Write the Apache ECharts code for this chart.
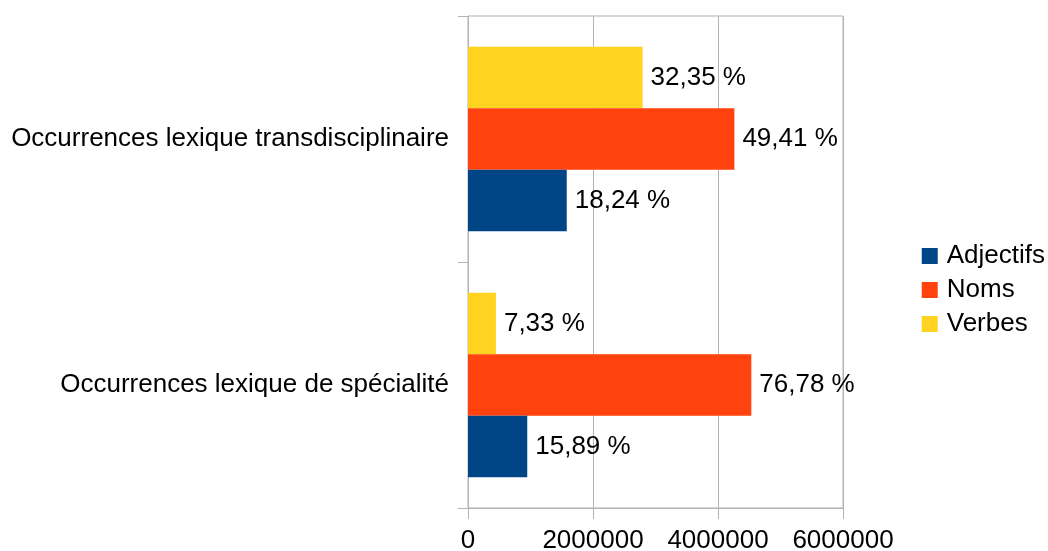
<!DOCTYPE html>
<html>
<head>
<meta charset="utf-8">
<script src="https://cdn.jsdelivr.net/npm/echarts@6/dist/echarts.min.js"></script>
<style>
  html, body { margin: 0; padding: 0; background: #ffffff; }
  #chart { width: 1048px; height: 551px; }
</style>
</head>
<body>
<div id="chart"></div>
<script>
// categories, bottom to top
const categories = ['Occurrences lexique de spécialité', 'Occurrences lexique transdisciplinaire'];

// occurrences per word class
const adjectifs = [948000, 1580000];
const noms = [4533000, 4262000];
const verbes = [447000, 2793000];

// percentage labels shown next to the bars
const adjectifsPct = ['15,89 %', '18,24 %'];
const nomsPct = ['76,78 %', '49,41 %'];
const verbesPct = ['7,33 %', '32,35 %'];

const chart = echarts.init(document.getElementById('chart'));

function barSeries(name, values, labels, color) {
  return {
    name: name,
    type: 'bar',
    data: values,
    barGap: '0%',
    barCategoryGap: '25%',
    itemStyle: { color: color },
    label: {
      show: true,
      position: 'right',
      distance: 8,
      color: '#000000',
      fontSize: 26,
      fontFamily: 'Liberation Sans',
      formatter: p => labels[p.dataIndex]
    },
    animation: false
  };
}

chart.setOption({
  textStyle: { fontFamily: 'Liberation Sans' },
  grid: {
    left: 468,
    right: 205,
    top: 16,
    bottom: 43,
    outerBoundsMode: 'none',
    containLabel: false,
    show: true,
    borderColor: '#b3b3b3',
    borderWidth: 1
  },
  legend: {
    orient: 'vertical',
    right: -2,
    top: 238,
    itemWidth: 16,
    itemHeight: 16,
    itemGap: 8,
    icon: 'rect',
    textStyle: { fontSize: 26, color: '#000000', fontFamily: 'Liberation Sans', padding: [0, 0, 0, 4] },
    data: ['Adjectifs', 'Noms', 'Verbes']
  },
  xAxis: {
    type: 'value',
    min: 0,
    max: 6000000,
    interval: 2000000,
    axisLine: { show: true, lineStyle: { color: '#b3b3b3' } },
    axisTick: { show: true, length: 11, lineStyle: { color: '#b3b3b3' } },
    axisLabel: { fontSize: 26, color: '#000000', margin: 20, formatter: v => String(v) },
    splitLine: { show: true, lineStyle: { color: '#b3b3b3' } }
  },
  yAxis: {
    type: 'category',
    data: categories,
    axisLine: { show: true, lineStyle: { color: '#b3b3b3' } },
    axisTick: { show: true, length: 10, lineStyle: { color: '#b3b3b3' } },
    axisLabel: { fontSize: 26, color: '#000000', margin: 19 }
  },
  // first series is drawn at the top of each band
  series: [
    barSeries('Verbes', verbes, verbesPct, '#ffd320'),
    barSeries('Noms', noms, nomsPct, '#ff420e'),
    barSeries('Adjectifs', adjectifs, adjectifsPct, '#004586')
  ]
});
</script>
</body>
</html>
